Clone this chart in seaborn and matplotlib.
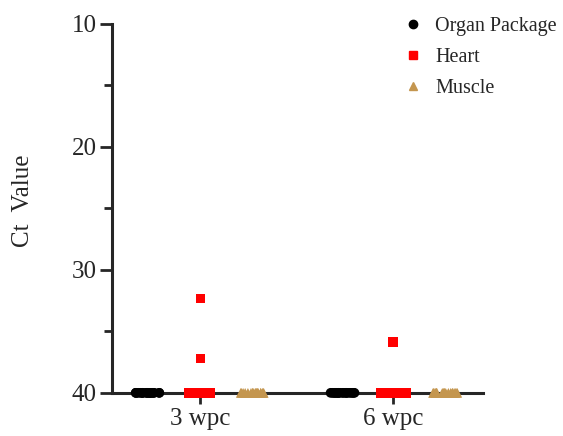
import numpy as np
import pandas as pd
import matplotlib
matplotlib.use("Agg")
import matplotlib.pyplot as plt
import seaborn as sns
from matplotlib.ticker import MultipleLocator

# Ct values per tissue and time point (40 = no amplification)
timepoints = ["3 wpc", "6 wpc"]
tissues = ["Organ Package", "Heart", "Muscle"]
organ_3wpc = [40.0] * 20
heart_3wpc = [40.0] * 18 + [32.3, 37.2]
muscle_3wpc = [40.0] * 20
organ_6wpc = [40.0] * 20
heart_6wpc = [40.0] * 19 + [35.9]
muscle_6wpc = [40.0] * 20

palette = {"Organ Package": "#000000", "Heart": "#ff0000", "Muscle": "#c4964f"}
markers = {"Organ Package": "o", "Heart": "s", "Muscle": "^"}

rows = []
for tp, groups in zip(timepoints, [(organ_3wpc, heart_3wpc, muscle_3wpc),
                                   (organ_6wpc, heart_6wpc, muscle_6wpc)]):
    for tissue, vals in zip(tissues, groups):
        for v in vals:
            rows.append({"Time": tp, "Tissue": tissue, "Ct": v})
df = pd.DataFrame(rows)

sns.set_style("ticks")
plt.rcParams["font.family"] = ["Liberation Serif", "DejaVu Serif"]

fig = plt.figure(figsize=(5.63, 4.36), dpi=100)
ax = fig.add_axes([0.199, 0.099, 0.659, 0.846])

np.random.seed(3)
undetected = df[df["Ct"] >= 40]
detected = df[df["Ct"] < 40]
for tissue in tissues:
    sub = undetected[undetected["Tissue"] == tissue]
    # seaborn divides the jitter by the number of hue levels when dodging
    sns.stripplot(data=sub, x="Time", y="Ct", hue="Tissue", order=timepoints,
                  hue_order=tissues, palette=palette, dodge=True, jitter=0.21,
                  marker=markers[tissue], size=7, linewidth=0, ax=ax,
                  clip_on=False, zorder=4, legend=False)
    sub = detected[detected["Tissue"] == tissue]
    if len(sub):
        sns.stripplot(data=sub, x="Time", y="Ct", hue="Tissue", order=timepoints,
                      hue_order=tissues, palette=palette, dodge=True, jitter=False,
                      marker=markers[tissue], size=6.5, linewidth=0, ax=ax,
                      clip_on=False, zorder=4, legend=False)

ax.set_ylim(40, 10)
ax.set_xlim(-0.456, 1.466)
ax.yaxis.set_major_locator(MultipleLocator(10))
ax.yaxis.set_minor_locator(MultipleLocator(5))
ax.set_xlabel("")
ax.set_ylabel("Ct  Value", fontsize=18)
ax.yaxis.set_label_coords(-0.21, 0.52)
ax.tick_params(axis="y", which="major", length=9, width=2, labelsize=18, pad=2)
ax.tick_params(axis="y", which="minor", length=6, width=2)
ax.tick_params(axis="x", length=8, width=2, labelsize=18, pad=3)
for s in ["top", "right"]:
    ax.spines[s].set_visible(False)
for s in ["left", "bottom"]:
    ax.spines[s].set_linewidth(2.2)

handles = [plt.Line2D([], [], linestyle="none", marker=markers[t], color=palette[t],
                      markersize=6 if t != "Muscle" else 5.5) for t in tissues]
ax.legend(handles, tissues, loc="upper left", bbox_to_anchor=(0.762, 1.04),
          frameon=False, fontsize=14.5, handlelength=1.0, handletextpad=0.6,
          labelspacing=0.58, borderaxespad=0)

fig.savefig("out.png", dpi=100)
